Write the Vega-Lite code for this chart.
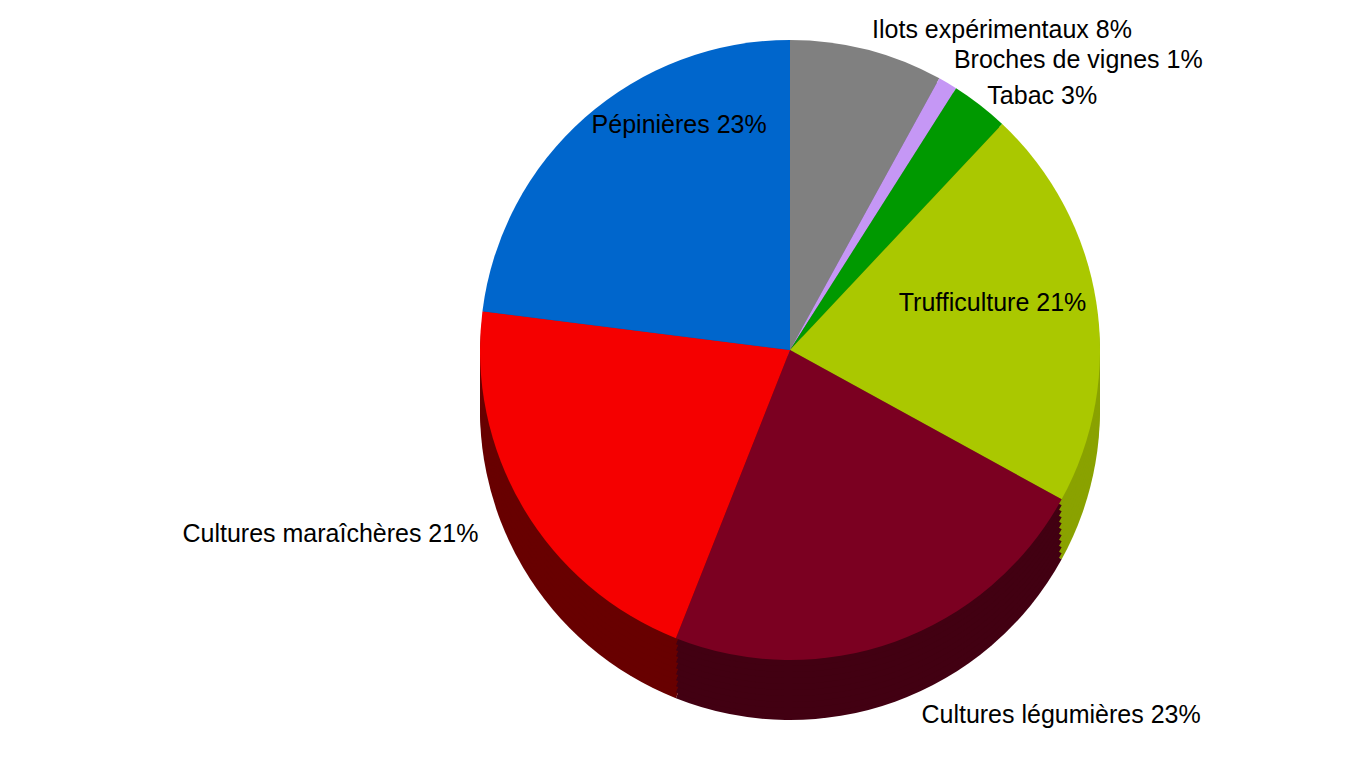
{
  "$schema": "https://vega.github.io/schema/vega-lite/v6.json",
  "width": 1126,
  "height": 700,
  "autosize": {"type": "none"},
  "padding": {"left": 227, "top": 0, "right": 0, "bottom": 78},
  "background": "white",
  "config": {"view": {"stroke": null}, "text": {"font": "Liberation Sans", "fontSize": 25, "color": "#000000"}},
  "data": {
    "values": [
      {"idx": 1, "category": "Ilots expérimentaux", "value": 8, "label": "Ilots expérimentaux 8%"},
      {"idx": 2, "category": "Broches de vignes", "value": 1, "label": "Broches de vignes 1%"},
      {"idx": 3, "category": "Tabac", "value": 3, "label": "Tabac 3%"},
      {"idx": 4, "category": "Trufficulture", "value": 21, "label": "Trufficulture 21%"},
      {"idx": 5, "category": "Cultures légumières", "value": 23, "label": "Cultures légumières 23%"},
      {"idx": 6, "category": "Cultures maraîchères", "value": 21, "label": "Cultures maraîchères 21%"},
      {"idx": 7, "category": "Pépinières", "value": 23, "label": "Pépinières 23%"}
    ]
  },
  "encoding": {
    "theta": {"field": "value", "type": "quantitative", "stack": true},
    "order": {"field": "idx", "type": "quantitative"}
  },
  "layer": [
    {"mark": {"type": "arc", "radius": 310, "yOffset": 60}, "encoding": {"color": {"field": "category", "type": "nominal", "legend": null, "scale": {"domain": ["Ilots expérimentaux","Broches de vignes","Tabac","Trufficulture","Cultures légumières","Cultures maraîchères","Pépinières"], "range": ["#5e5e5e","#9470b8","#006a00","#8aa200","#420012","#680000","#004c99"]}}}},
    {"mark": {"type": "arc", "radius": 310, "yOffset": 54}, "encoding": {"color": {"field": "category", "type": "nominal", "legend": null, "scale": {"domain": ["Ilots expérimentaux","Broches de vignes","Tabac","Trufficulture","Cultures légumières","Cultures maraîchères","Pépinières"], "range": ["#5e5e5e","#9470b8","#006a00","#8aa200","#420012","#680000","#004c99"]}}}},
    {"mark": {"type": "arc", "radius": 310, "yOffset": 48}, "encoding": {"color": {"field": "category", "type": "nominal", "legend": null, "scale": {"domain": ["Ilots expérimentaux","Broches de vignes","Tabac","Trufficulture","Cultures légumières","Cultures maraîchères","Pépinières"], "range": ["#5e5e5e","#9470b8","#006a00","#8aa200","#420012","#680000","#004c99"]}}}},
    {"mark": {"type": "arc", "radius": 310, "yOffset": 42}, "encoding": {"color": {"field": "category", "type": "nominal", "legend": null, "scale": {"domain": ["Ilots expérimentaux","Broches de vignes","Tabac","Trufficulture","Cultures légumières","Cultures maraîchères","Pépinières"], "range": ["#5e5e5e","#9470b8","#006a00","#8aa200","#420012","#680000","#004c99"]}}}},
    {"mark": {"type": "arc", "radius": 310, "yOffset": 36}, "encoding": {"color": {"field": "category", "type": "nominal", "legend": null, "scale": {"domain": ["Ilots expérimentaux","Broches de vignes","Tabac","Trufficulture","Cultures légumières","Cultures maraîchères","Pépinières"], "range": ["#5e5e5e","#9470b8","#006a00","#8aa200","#420012","#680000","#004c99"]}}}},
    {"mark": {"type": "arc", "radius": 310, "yOffset": 30}, "encoding": {"color": {"field": "category", "type": "nominal", "legend": null, "scale": {"domain": ["Ilots expérimentaux","Broches de vignes","Tabac","Trufficulture","Cultures légumières","Cultures maraîchères","Pépinières"], "range": ["#5e5e5e","#9470b8","#006a00","#8aa200","#420012","#680000","#004c99"]}}}},
    {"mark": {"type": "arc", "radius": 310, "yOffset": 24}, "encoding": {"color": {"field": "category", "type": "nominal", "legend": null, "scale": {"domain": ["Ilots expérimentaux","Broches de vignes","Tabac","Trufficulture","Cultures légumières","Cultures maraîchères","Pépinières"], "range": ["#5e5e5e","#9470b8","#006a00","#8aa200","#420012","#680000","#004c99"]}}}},
    {"mark": {"type": "arc", "radius": 310, "yOffset": 18}, "encoding": {"color": {"field": "category", "type": "nominal", "legend": null, "scale": {"domain": ["Ilots expérimentaux","Broches de vignes","Tabac","Trufficulture","Cultures légumières","Cultures maraîchères","Pépinières"], "range": ["#5e5e5e","#9470b8","#006a00","#8aa200","#420012","#680000","#004c99"]}}}},
    {"mark": {"type": "arc", "radius": 310, "yOffset": 12}, "encoding": {"color": {"field": "category", "type": "nominal", "legend": null, "scale": {"domain": ["Ilots expérimentaux","Broches de vignes","Tabac","Trufficulture","Cultures légumières","Cultures maraîchères","Pépinières"], "range": ["#5e5e5e","#9470b8","#006a00","#8aa200","#420012","#680000","#004c99"]}}}},
    {"mark": {"type": "arc", "radius": 310, "yOffset": 6}, "encoding": {"color": {"field": "category", "type": "nominal", "legend": null, "scale": {"domain": ["Ilots expérimentaux","Broches de vignes","Tabac","Trufficulture","Cultures légumières","Cultures maraîchères","Pépinières"], "range": ["#5e5e5e","#9470b8","#006a00","#8aa200","#420012","#680000","#004c99"]}}}},
    {"mark": {"type": "arc", "radius": 310}, "encoding": {"color": {"field": "category", "type": "nominal", "legend": null, "scale": {"domain": ["Ilots expérimentaux","Broches de vignes","Tabac","Trufficulture","Cultures légumières","Cultures maraîchères","Pépinières"], "range": ["#808080","#c597f5","#009900","#aac800","#7b0021","#f50000","#0066cc"]}}}},
    {"mark": {"type": "text", "radius": 330, "align": "left", "baseline": "middle"}, "encoding": {"text": {"condition": {"test": "datum.idx == 1", "field": "label"}, "value": ""}}},
    {"mark": {"type": "text", "radius": 322, "align": "left", "baseline": "bottom"}, "encoding": {"text": {"condition": {"test": "datum.idx == 2", "field": "label"}, "value": ""}}},
    {"mark": {"type": "text", "radius": 322, "align": "left", "baseline": "middle"}, "encoding": {"text": {"condition": {"test": "datum.idx == 3", "field": "label"}, "value": ""}}},
    {"mark": {"type": "text", "radius": 300, "align": "right", "baseline": "middle"}, "encoding": {"text": {"condition": {"test": "datum.idx == 4", "field": "label"}, "value": ""}}},
    {"mark": {"type": "text", "radius": 388, "align": "left", "baseline": "middle"}, "encoding": {"text": {"condition": {"test": "datum.idx == 5", "field": "label"}, "value": ""}}},
    {"mark": {"type": "text", "radius": 362, "align": "right", "baseline": "middle"}, "encoding": {"text": {"condition": {"test": "datum.idx == 6", "field": "label"}, "value": ""}}},
    {"mark": {"type": "text", "radius": 300, "align": "left", "baseline": "middle"}, "encoding": {"text": {"condition": {"test": "datum.idx == 7", "field": "label"}, "value": ""}}}
  ],
  "resolve": {"scale": {"color": "independent"}}
}
